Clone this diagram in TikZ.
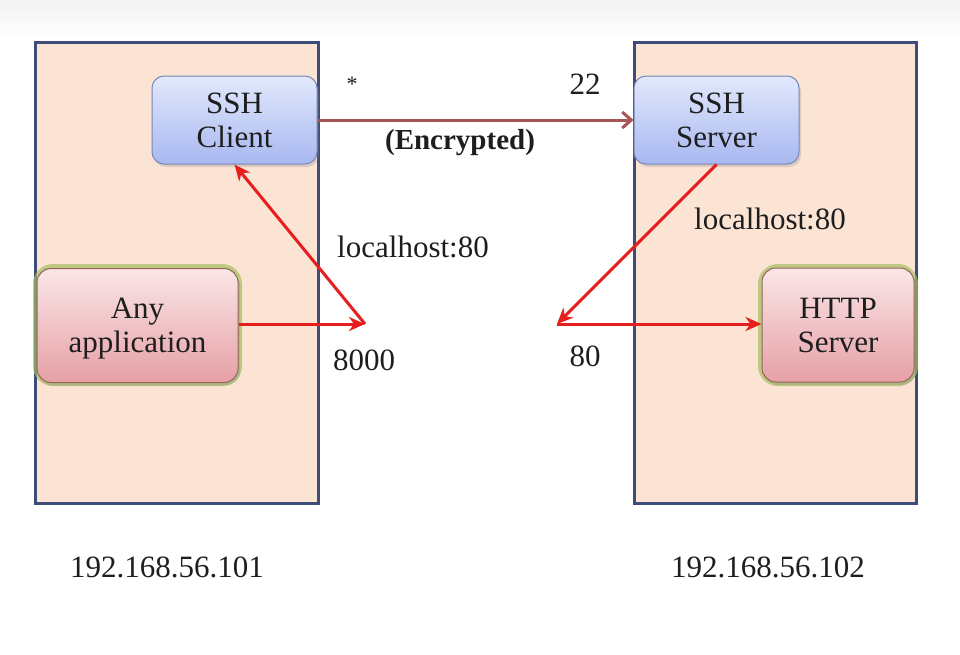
\documentclass[tikz,border=0pt]{standalone}
\usepackage{fontspec}
\setmainfont{Liberation Serif}
\usetikzlibrary{arrows.meta,shadows}
\definecolor{peach}{RGB}{252,228,212}
\definecolor{frame}{RGB}{62,76,122}
\definecolor{bluetop}{RGB}{226,232,252}
\definecolor{bluebot}{RGB}{168,184,240}
\definecolor{blueedge}{RGB}{120,135,185}
\definecolor{pinktop}{RGB}{250,230,232}
\definecolor{pinkbot}{RGB}{230,160,165}
\definecolor{pinkedge}{RGB}{150,100,90}
\definecolor{glow}{RGB}{165,190,95}
\definecolor{brownarrow}{RGB}{165,85,85}
\definecolor{redarrow}{RGB}{230,30,30}
\definecolor{txt}{RGB}{30,30,30}
\tikzset{
  hostbox/.style={draw=frame, line width=3pt, fill=peach},
  bluebox/.style={draw=blueedge, line width=1pt, rounded corners=12pt,
    top color=bluetop, bottom color=bluebot, align=center, text=txt,
    font=\fontsize{31}{34}\selectfont, inner sep=0pt,
    drop shadow={shadow xshift=2pt, shadow yshift=-3pt, opacity=0.25}},
  pinkbox/.style={draw=pinkedge, line width=1pt, rounded corners=14pt,
    top color=pinktop, bottom color=pinkbot, align=center, text=txt,
    font=\fontsize{31}{34}\selectfont, inner sep=0pt,
    drop shadow={shadow xshift=2pt, shadow yshift=-3pt, opacity=0.25}},
  glowbox/.style={draw=glow, line width=8pt, rounded corners=16pt, opacity=0.7},
  lbl/.style={font=\fontsize{31}{37}\selectfont, text=txt, inner sep=0pt},
  redline/.style={draw=redarrow, line width=3pt},
  redhead/.style={-{Stealth[length=16pt,width=14pt,inset=5pt]}},
}
\begin{document}
\begin{tikzpicture}[x=1pt,y=-1pt]
\useasboundingbox (0,0) rectangle (960,654);
\fill[white] (0,0) rectangle (960,654);
\shade[top color=black!5, bottom color=white] (0,0) rectangle (960,40);
% host boxes
\draw[hostbox] (35,42) rectangle (318,503);
\draw[hostbox] (634,42) rectangle (916,503);
% glows
\draw[glowbox] (37,268) rectangle (238,382);
\draw[glowbox] (762,268) rectangle (914,382);
% nodes
\node[bluebox, minimum width=165pt, minimum height=88pt] (client) at (234.5,120) {SSH\\Client};
\node[bluebox, minimum width=165pt, minimum height=88pt] (server) at (716.5,120) {SSH\\Server};
\node[pinkbox, minimum width=201pt, minimum height=114pt] (app) at (137.5,325.5) {Any\\\smash{application}};
\node[pinkbox, minimum width=152pt, minimum height=114pt] (http) at (838,325) {HTTP\\Server};
\coordinate (lp) at (365,324);
\coordinate (rp) at (557,324);
% encrypted tunnel
\draw[draw=brownarrow, line width=3pt, -{Straight Barb[length=9pt,width=16pt,line width=3pt]}] (client.east) -- (server.west);
\node[lbl, font=\fontsize{22}{26}\selectfont] (star) at (352,84) {*};
\node[lbl] (p22) at (585,84) {22};
\node[lbl, font=\bfseries\fontsize{29}{35}\selectfont] (enc) at (460,143) {(Encrypted)};
% left red arrows
\draw[redline, redhead] (lp) -- (client.south);
\draw[redline, redhead] (app.east |- lp) -- (lp);
\node[lbl] (lh1) at (413,247) {localhost:80};
\node[lbl] (p8000) at (364,360) {8000};
% right red arrows
\draw[redline, redhead] (server.south) -- (rp);
\draw[redline, redhead] (rp) -- (http.west |- rp);
\node[lbl] (lh2) at (770,219) {localhost:80};
\node[lbl] (p80) at (585,356) {80};
% addresses
\node[lbl] (ip1) at (167,567) {192.168.56.101};
\node[lbl] (ip2) at (768,567) {192.168.56.102};
\end{tikzpicture}
\end{document}
